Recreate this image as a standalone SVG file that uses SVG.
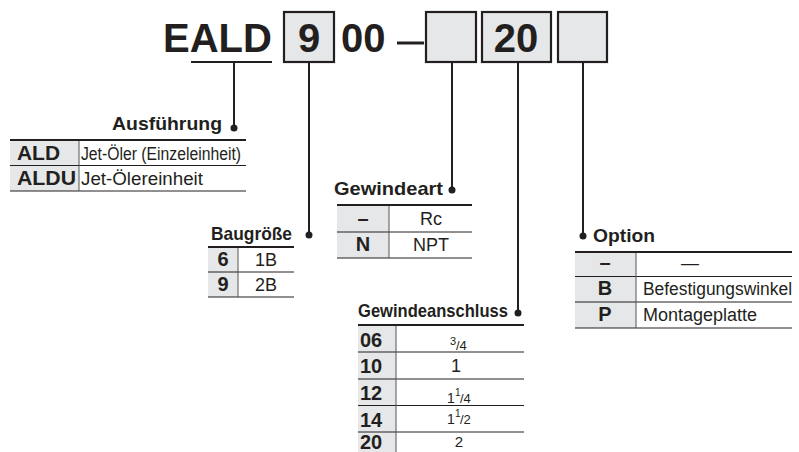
<svg xmlns="http://www.w3.org/2000/svg" width="799" height="452" viewBox="0 0 799 452">
<style>
text{font-family:"Liberation Sans",Arial,Helvetica,sans-serif;fill:#231f20}
.big{font-size:40px;font-weight:bold}
.lbl{font-size:19px;font-weight:bold}
.code{font-size:20px;font-weight:bold}
.val{font-size:18px}
.mid{text-anchor:middle}
.box{fill:#e6e7e8;stroke:#231f20;stroke-width:2.2}
.gray{fill:#e6e7e8}
.top{stroke:#231f20;stroke-width:2}
.row{stroke:#231f20;stroke-width:1}
.sep{stroke:#555;stroke-width:1}
.conn{stroke:#231f20;stroke-width:2;fill:none}
.dot{fill:#231f20}
</style>
<rect width="799" height="452" fill="#fff"/>
<g id="header">
<text class="big" x="163" y="52">EALD</text>
<line x1="191" y1="62" x2="272" y2="62" stroke="#231f20" stroke-width="2"/>
<rect class="box" x="284" y="12" width="50" height="50"/>
<text class="big mid" x="309" y="52">9</text>
<text class="big" x="341" y="52">00</text>
<line x1="397" y1="43" x2="424" y2="43" stroke="#231f20" stroke-width="3"/>
<rect class="box" x="426" y="12" width="50" height="50"/>
<rect class="box" x="482" y="12" width="69" height="50"/>
<text class="big mid" x="516" y="52">20</text>
<rect class="box" x="558" y="12" width="49" height="50"/>
</g>
<g id="connectors">
<line class="conn" x1="234" y1="63" x2="234" y2="128"/>
<circle class="dot" cx="234" cy="128" r="3.5"/>
<line class="conn" x1="309" y1="63" x2="309" y2="235"/>
<circle class="dot" cx="309" cy="235" r="3.5"/>
<line class="conn" x1="452" y1="63" x2="452" y2="190"/>
<circle class="dot" cx="452" cy="190" r="3.5"/>
<line class="conn" x1="518" y1="63" x2="518" y2="313"/>
<circle class="dot" cx="518" cy="313" r="3.5"/>
<line class="conn" x1="583" y1="63" x2="583" y2="236"/>
<circle class="dot" cx="583" cy="236" r="3.5"/>
</g>
<g id="ausfuehrung">
<text class="lbl" x="112" y="130" textLength="110" lengthAdjust="spacingAndGlyphs">Ausführung</text>
<rect class="gray" x="10" y="140" width="69" height="51"/>
<line class="top" x1="10" y1="140" x2="246" y2="140"/>
<line class="row" x1="10" y1="165.5" x2="246" y2="165.5"/>
<line class="row" x1="10" y1="191" x2="246" y2="191"/>
<line class="sep" x1="79" y1="141" x2="79" y2="191"/>
<text class="code" x="17" y="159.5" textLength="43" lengthAdjust="spacingAndGlyphs">ALD</text>
<text class="val" x="81" y="159.5" textLength="160" lengthAdjust="spacingAndGlyphs">Jet-Öler (Einzeleinheit)</text>
<text class="code" x="17" y="185" textLength="59" lengthAdjust="spacingAndGlyphs">ALDU</text>
<text class="val" x="81" y="185" textLength="122" lengthAdjust="spacingAndGlyphs">Jet-Ölereinheit</text>
</g>
<g id="baugroesse">
<text class="lbl" x="211" y="240" textLength="81" lengthAdjust="spacingAndGlyphs">Baugröße</text>
<rect class="gray" x="208" y="247" width="30" height="50"/>
<line class="top" x1="208" y1="247" x2="294" y2="247"/>
<line class="row" x1="208" y1="272" x2="294" y2="272"/>
<line class="row" x1="208" y1="297" x2="294" y2="297"/>
<line class="sep" x1="238" y1="248" x2="238" y2="297"/>
<text class="code mid" x="223" y="266">6</text>
<text class="val mid" x="266" y="266">1B</text>
<text class="code mid" x="223" y="291">9</text>
<text class="val mid" x="266" y="291">2B</text>
</g>
<g id="gewindeart">
<text class="lbl" x="334" y="195" textLength="109" lengthAdjust="spacingAndGlyphs">Gewindeart</text>
<rect class="gray" x="337" y="205" width="52" height="53"/>
<line class="top" x1="337" y1="205" x2="472" y2="205"/>
<line class="row" x1="337" y1="232" x2="472" y2="232"/>
<line class="row" x1="337" y1="258" x2="472" y2="258"/>
<line class="sep" x1="389" y1="206" x2="389" y2="258"/>
<text class="code mid" x="363" y="225">–</text>
<text class="val mid" x="431" y="225">Rc</text>
<text class="code mid" x="363" y="251">N</text>
<text class="val mid" x="431" y="251">NPT</text>
</g>
<g id="gewindeanschluss">
<text class="lbl" x="358" y="317" textLength="150" lengthAdjust="spacingAndGlyphs">Gewindeanschluss</text>
<rect class="gray" x="358" y="325" width="38" height="127"/>
<line class="top" x1="358" y1="325" x2="524" y2="325"/>
<line class="row" x1="358" y1="352" x2="524" y2="352"/>
<line class="row" x1="358" y1="379" x2="524" y2="379"/>
<line class="row" x1="358" y1="405.5" x2="524" y2="405.5"/>
<line class="row" x1="358" y1="432" x2="524" y2="432"/>
<line class="sep" x1="396" y1="326" x2="396" y2="452"/>
<text class="code" x="360" y="347">06</text>
<text class="code" x="360" y="373">10</text>
<text class="code" x="360" y="400">12</text>
<text class="code" x="360" y="427">14</text>
<text class="code" x="360" y="449">20</text>
<text x="450" y="345" font-size="11">3</text>
<text x="456" y="350" font-size="13">/4</text>
<text x="456" y="372" font-size="18" class="mid">1</text>
<text x="447" y="403" font-size="14">1</text>
<text x="455" y="396" font-size="10">1</text>
<text x="460" y="403" font-size="13">/4</text>
<text x="447" y="424" font-size="14">1</text>
<text x="455" y="417" font-size="10">1</text>
<text x="460" y="424" font-size="13">/2</text>
<text x="459" y="447" font-size="15" class="mid">2</text>
</g>
<g id="option">
<text class="lbl" x="593" y="242" textLength="62" lengthAdjust="spacingAndGlyphs">Option</text>
<rect class="gray" x="575" y="252" width="61" height="76"/>
<line class="top" x1="575" y1="252" x2="792" y2="252"/>
<line class="row" x1="575" y1="276.5" x2="792" y2="276.5"/>
<line class="row" x1="575" y1="302" x2="792" y2="302"/>
<line class="row" x1="575" y1="328" x2="792" y2="328"/>
<line class="sep" x1="636" y1="253" x2="636" y2="328"/>
<text class="code mid" x="605" y="269">–</text>
<text class="val mid" x="690" y="269">—</text>
<text class="code mid" x="605" y="295">B</text>
<text class="val" x="643" y="295" textLength="149" lengthAdjust="spacingAndGlyphs">Befestigungswinkel</text>
<text class="code mid" x="605" y="321">P</text>
<text class="val" x="643" y="321">Montageplatte</text>
</g>
</svg>
